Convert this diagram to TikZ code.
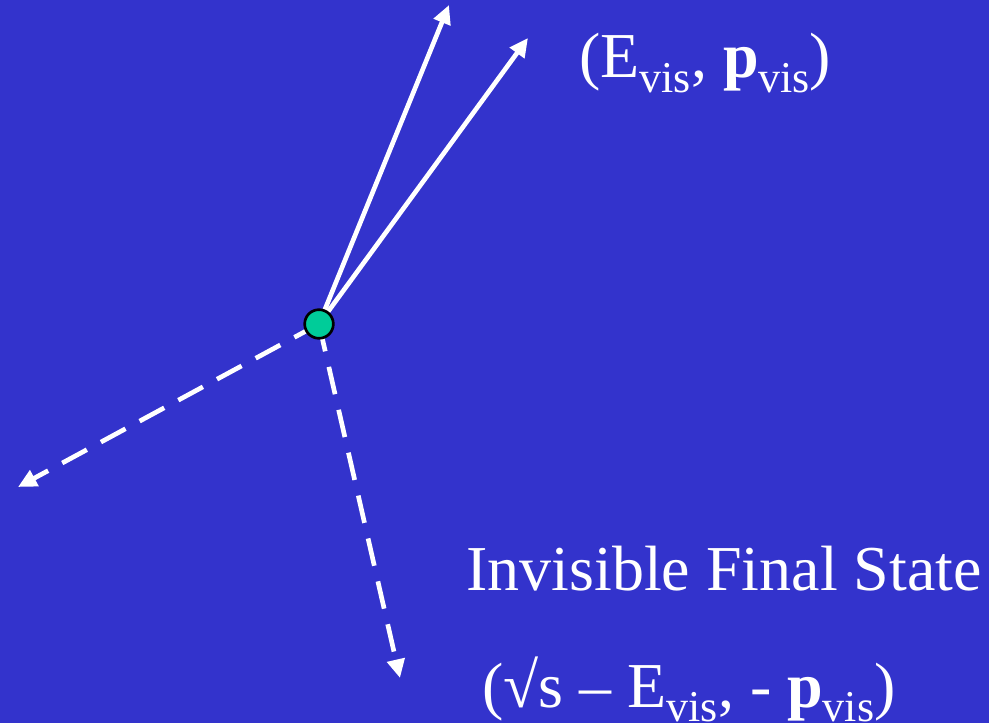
\documentclass[tikz,border=0pt]{standalone}
\usepackage{fontspec}
\setmainfont{Liberation Serif}
\usetikzlibrary{arrows.meta}
\definecolor{slidebg}{HTML}{3333CC}
\definecolor{vertexgreen}{HTML}{00CC99}
\newcommand{\vis}{\raisebox{-11pt}{\fontsize{33}{33}\selectfont vis}}

\begin{document}
\begin{tikzpicture}[x=0.75pt, y=-0.75pt,
    track/.style={white, line width=3.5pt, -{Triangle[length=14pt,width=13pt]}},
    invtrack/.style={track, dash pattern=on 21pt off 12pt},
    label/.style={white, anchor=base west, inner sep=0pt, font=\fontsize{48}{58}\selectfont}]
    % Background
    \fill[slidebg] (0,0) rectangle (989,723);
    \useasboundingbox (0,0) rectangle (989,723);

    % Vertex and track ends
    \coordinate (vtx) at (319,324);
    \coordinate (vis1) at (449,5);
    \coordinate (vis2) at (528,38);
    \coordinate (inv1) at (18,487);
    \coordinate (inv2) at (400,678);

    % Visible tracks
    \draw[track] (vtx) -- (vis1);
    \draw[track] (vtx) -- (vis2);

    % Invisible tracks
    \draw[invtrack] (vtx) -- (inv1);
    \draw[invtrack] (vtx) -- (inv2);

    \node[circle, draw=black, line width=2pt, fill=vertexgreen, minimum size=21.5pt, inner sep=0pt] (dot) at (vtx) {};

    % Labels
    \node[label] (vislabel) at (579,78) {(E\vis, \textbf{p}\vis)};
    \node[label] (invlabel) at (466,590) {Invisible Final State};
    \node[label] (invmom) at (482,707) {(√s – E\vis, - \textbf{p}\vis)};
\end{tikzpicture}
\end{document}
